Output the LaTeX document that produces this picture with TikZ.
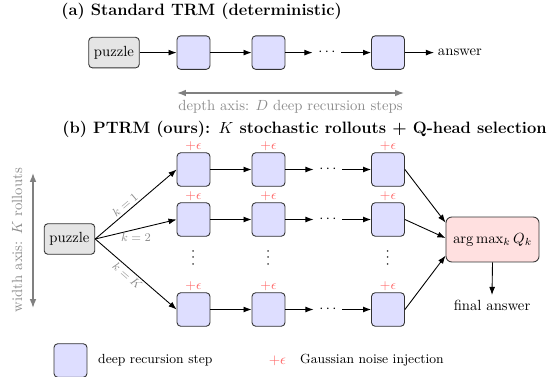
\documentclass[tikz,border=0pt]{standalone}
\usetikzlibrary{arrows.meta,positioning}
\begin{document}
\begin{tikzpicture}[x=0.6803pt,y=-0.6803pt,
  every node/.style={inner sep=2pt},
  stepbox/.style={draw=black!80, fill=blue!13, rounded corners=2.5pt, line width=0.6pt,
    minimum width=22.4pt, minimum height=22.8pt, inner sep=0pt},
  inbox/.style={draw=black!80, fill=black!10, rounded corners=2.5pt, line width=0.6pt,
    minimum height=20.8pt, inner xsep=3.6pt},
  selbox/.style={draw=black!80, fill=red!12, rounded corners=4pt, line width=0.6pt,
    minimum width=63.3pt, minimum height=30.6pt},
  noise/.style={text=red!60, font=\small, inner sep=0.8pt},
  conn/.style={-{Latex[length=5.5pt,width=4pt]}, line width=0.6pt},
  axis/.style={{Latex[length=6pt,width=4.5pt]}-{Latex[length=6pt,width=4.5pt]}, draw=black!50, line width=0.9pt},
  axislabel/.style={text=black!45},
  klabel/.style={text=black!45, font=\footnotesize, inner sep=1.5pt},
  dotsnode/.style={inner xsep=3.8pt, inner ysep=2pt},
  vdotsnode/.style={inner sep=0pt, rotate=90},
  title/.style={font=\fontsize{11.2}{13}\selectfont\bfseries, anchor=west, inner sep=0pt}
]
\useasboundingbox (0,0) rectangle (551,377);

% ---------- (a) ----------
\node[title] (ta) at (61,11.5) {(a) Standard TRM (deterministic)};
\node[inbox] (pa) at (114,52.6) {puzzle};
\node[stepbox] (a1) at (193.5,52.6) {};
\node[stepbox] (a2) at (268.5,52.6) {};
\node[dotsnode] (ad) at (327,52.6) {$\cdots$};
\node[stepbox] (a3) at (388,52.6) {};
\node[anchor=west, inner xsep=2.5pt] (ansa) at (434,52.6) {answer};
\draw[conn] (pa) -- (a1);
\draw[conn] (a1) -- (a2);
\draw[conn] (a2) -- (ad);
\draw[conn] (ad) -- (a3);
\draw[conn] (a3) -- (ansa);
\coordinate (dl) at (177,93);
\coordinate (dr) at (404,93);
\draw[axis] (dl) -- (dr);
\node[axislabel] (dlab) at (290.5,107) {depth axis: $D$ deep recursion steps};

% ---------- (b) ----------
\node[title] (tb) at (62,129) {(b) PTRM (ours): $K$ stochastic rollouts + Q-head selection};
\node[inbox] (pb) at (69.5,239) {puzzle};

\foreach \r/\y in {1/169.5,2/219.5,3/309.5}{
  \node[stepbox, label={[noise]above:$+\epsilon$}] (b\r1) at (193.5,\y) {};
  \node[stepbox, label={[noise]above:$+\epsilon$}] (b\r2) at (268.5,\y) {};
  \node[dotsnode] (b\r d) at (328,\y) {$\cdots$};
  \node[stepbox, label={[noise]above:$+\epsilon$}] (b\r3) at (388,\y) {};
  \draw[conn] (b\r1) -- (b\r2);
  \draw[conn] (b\r2) -- (b\r d);
  \draw[conn] (b\r d) -- (b\r3);
}
\node[vdotsnode] (v1) at (193.5,257.5) {$\cdots$};
\node[vdotsnode] (v2) at (268.5,257.5) {$\cdots$};
\node[vdotsnode] (v3) at (388,257.5) {$\cdots$};

\draw[conn] (pb.east) -- node[klabel, sloped, above, pos=0.42] {$k=1$} (b11.west);
\draw[conn] (pb.east) -- node[klabel, below=1pt, pos=0.5] {$k=2$} (b21.west);
\draw[conn] (pb.east) -- node[klabel, sloped, below, pos=0.45] {$k=K$} (b31.west);

\node[selbox] (sel) at (492.5,239.5) {$\arg\max_k Q_k$};
\draw[conn] (b13.east) -- ([yshift=11.5pt]sel.west);
\draw[conn] (b23.east) -- ([yshift=1pt]sel.west);
\draw[conn] (b33.east) -- ([yshift=-11pt]sel.west);
\node[inner sep=3pt] (fin) at (492,305) {final answer};
\draw[conn] (sel.south) -- (fin.north);

\coordinate (wt) at (33,173);
\coordinate (wb) at (33,308);
\draw[axis] (wt) -- (wb);
\node[axislabel, rotate=90] (wlab) at (17,240) {width axis: $K$ rollouts};

% ---------- legend ----------
\node[stepbox] (lg) at (70.5,360.5) {};
\node[anchor=west] (lgt) at (95,360.5) {\small deep recursion step};
\node[noise, font=\normalsize] (ln) at (277.5,360.5) {$+\epsilon$};
\node[anchor=west] (lnt) at (297,360.5) {\small Gaussian noise injection};
\end{tikzpicture}
\end{document}
